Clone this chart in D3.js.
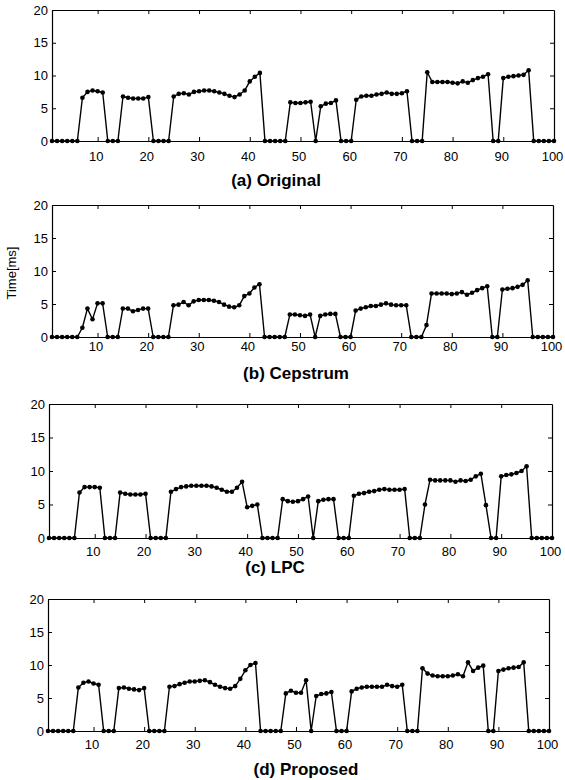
<!DOCTYPE html>
<html>
<head>
<meta charset="utf-8">
<script src="https://cdn.jsdelivr.net/npm/d3@7/dist/d3.min.js"></script>
<style>
  html, body { margin: 0; padding: 0; background: #fff; }
  svg { display: block; }
  .tick text { font-family: "Liberation Sans", Arial, sans-serif; font-size: 13px; fill: #000; }
  .title { font-family: "Liberation Sans", Arial, sans-serif; font-size: 17px; font-weight: bold; fill: #000; }
  .ylab { font-family: "Liberation Sans", Arial, sans-serif; font-size: 13px; fill: #000; }
</style>
</head>
<body>
<svg id="chart" width="565" height="780"></svg>
<script>
// Frame index (1..100) and pitch period estimates in ms
const frames = d3.range(1, 101);
const xTicks = [10, 20, 30, 40, 50, 60, 70, 80, 90, 100];
const yTicks = [0, 5, 10, 15, 20];
const panelTitles = ["(a) Original", "(b) Cepstrum", "(c) LPC", "(d) Proposed"];
const yAxisTitle = "Time[ms]";

const original = [
  0, 0, 0, 0, 0, 0, 6.6, 7.5, 7.7, 7.6, 7.4, 0, 0, 0,
  6.8, 6.6, 6.5, 6.5, 6.5, 6.7, 0, 0, 0, 0,
  6.8, 7.2, 7.3, 7.1, 7.5, 7.6, 7.7, 7.7, 7.6, 7.4, 7.2, 6.9, 6.7, 7.1, 7.7, 9.1, 9.8, 10.4,
  0, 0, 0, 0, 0, 5.9, 5.8, 5.8, 5.9, 6.0, 0, 5.3, 5.7, 5.8, 6.2, 0, 0, 0,
  6.3, 6.8, 6.9, 6.9, 7.1, 7.2, 7.4, 7.2, 7.2, 7.3, 7.6, 0, 0, 0,
  10.5, 9.0, 9.0, 9.0, 9.0, 8.9, 8.8, 9.1, 8.9, 9.3, 9.6, 9.8, 10.2, 0, 0,
  9.6, 9.8, 9.9, 10.0, 10.1, 10.8, 0, 0, 0, 0, 0
];

const cepstrum = [
  0, 0, 0, 0, 0, 0, 1.4, 4.3, 2.7, 5.1, 5.1, 0, 0, 0,
  4.3, 4.3, 3.9, 4.1, 4.3, 4.3, 0, 0, 0, 0,
  4.8, 4.9, 5.3, 4.8, 5.4, 5.6, 5.6, 5.6, 5.5, 5.3, 4.9, 4.6, 4.5, 4.8, 6.2, 6.6, 7.5, 8.0,
  0, 0, 0, 0, 0, 3.4, 3.4, 3.3, 3.2, 3.4, 0, 3.2, 3.4, 3.5, 3.5, 0, 0, 0,
  4.0, 4.3, 4.5, 4.7, 4.7, 4.9, 5.1, 4.9, 4.8, 4.8, 4.8, 0, 0, 0,
  1.8, 6.6, 6.6, 6.6, 6.6, 6.5, 6.6, 6.8, 6.4, 6.7, 7.1, 7.4, 7.7, 0, 0,
  7.2, 7.3, 7.4, 7.6, 7.9, 8.6, 0, 0, 0, 0, 0
];

const lpc = [
  0, 0, 0, 0, 0, 0, 6.8, 7.6, 7.6, 7.6, 7.5, 0, 0, 0,
  6.8, 6.6, 6.5, 6.5, 6.5, 6.6, 0, 0, 0, 0,
  6.9, 7.3, 7.6, 7.7, 7.8, 7.8, 7.8, 7.8, 7.7, 7.5, 7.2, 6.9, 6.9, 7.5, 8.4, 4.6, 4.8, 5.0,
  0, 0, 0, 0, 5.8, 5.5, 5.4, 5.5, 5.8, 6.2, 0, 5.5, 5.7, 5.8, 5.8, 0, 0, 0,
  6.3, 6.6, 6.7, 6.9, 7.0, 7.2, 7.3, 7.2, 7.2, 7.2, 7.3, 0, 0, 0,
  5.0, 8.7, 8.6, 8.6, 8.6, 8.6, 8.4, 8.6, 8.5, 8.7, 9.2, 9.6, 4.9, 0, 0,
  9.2, 9.4, 9.5, 9.7, 10.0, 10.7, 0, 0, 0, 0, 0
];

const proposed = [
  0, 0, 0, 0, 0, 0, 6.6, 7.3, 7.5, 7.2, 7.0, 0, 0, 0,
  6.5, 6.6, 6.4, 6.3, 6.2, 6.5, 0, 0, 0, 0,
  6.7, 6.8, 7.1, 7.3, 7.5, 7.5, 7.6, 7.7, 7.4, 7.0, 6.7, 6.5, 6.4, 6.8, 7.9, 9.2, 10.0, 10.3,
  0, 0, 0, 0, 0, 5.7, 6.1, 5.8, 5.8, 7.7, 0, 5.3, 5.6, 5.7, 5.9, 0, 0, 0,
  6.0, 6.4, 6.6, 6.7, 6.7, 6.7, 6.7, 7.0, 6.8, 6.7, 7.0, 0, 0, 0,
  9.5, 8.7, 8.4, 8.3, 8.3, 8.3, 8.4, 8.6, 8.3, 10.4, 9.1, 9.6, 9.9, 0, 0,
  9.1, 9.3, 9.5, 9.6, 9.7, 10.4, 0, 0, 0, 0, 0
];

const seriesList = [original, cepstrum, lpc, proposed];

// Panel frames: plot box edges, tick-label gap and title placement
const panels = [
  { left: 52, right: 554, top: 10,  bottom: 141, xPad: 10.5, titleX: 276, titleY: 186 },
  { left: 52, right: 553, top: 205, bottom: 337, xPad: 4.5,  titleX: 296, titleY: 379, yTitle: true },
  { left: 49, right: 552, top: 404, bottom: 538, xPad: 8.5,  titleX: 275, titleY: 573 },
  { left: 48, right: 549, top: 599, bottom: 731, xPad: 8.5,  titleX: 306, titleY: 775 }
];

const svg = d3.select("#chart");

panels.forEach((p, i) => {
  const values = seriesList[i];
  const x = d3.scaleLinear().domain([1, 100]).range([p.left, p.right]);
  const y = d3.scaleLinear().domain([0, 20]).range([p.bottom, p.top]);
  const g = svg.append("g");

  // bottom axis with labels, ticks pointing inward
  g.append("g")
    .attr("transform", `translate(0,${p.bottom})`)
    .call(d3.axisBottom(x).tickValues(xTicks).tickSizeInner(-4).tickSizeOuter(0).tickPadding(p.xPad))
    .call(a => a.selectAll("text").attr("dx", "-2"));
  // top axis, ticks only
  g.append("g")
    .attr("transform", `translate(0,${p.top})`)
    .call(d3.axisTop(x).tickValues(xTicks.slice(0, -1)).tickSizeInner(-4).tickSizeOuter(0).tickFormat(""));
  // left axis with labels
  g.append("g")
    .attr("transform", `translate(${p.left},0)`)
    .call(d3.axisLeft(y).tickValues(yTicks).tickSizeInner(-4).tickSizeOuter(0).tickPadding(4));
  // right axis, ticks only
  g.append("g")
    .attr("transform", `translate(${p.right},0)`)
    .call(d3.axisRight(y).tickValues(yTicks.slice(1, -1)).tickSizeInner(-4).tickSizeOuter(0).tickFormat(""));

  g.selectAll(".domain").attr("stroke", "#000").attr("stroke-width", 1.2);
  g.selectAll(".tick line").attr("stroke", "#000").attr("stroke-width", 1);

  // pitch track
  const line = d3.line().x((d, k) => x(frames[k])).y(d => y(d));
  g.append("path")
    .datum(values)
    .attr("fill", "none")
    .attr("stroke", "#000")
    .attr("stroke-width", 1.4)
    .attr("stroke-linejoin", "round")
    .attr("d", line);

  g.selectAll("circle.pt")
    .data(values)
    .join("circle")
    .attr("class", "pt")
    .attr("cx", (d, k) => x(frames[k]))
    .attr("cy", d => y(d))
    .attr("r", 2.3)
    .attr("fill", "#000");

  g.append("text")
    .attr("class", "title")
    .attr("x", p.titleX)
    .attr("y", p.titleY)
    .attr("text-anchor", "middle")
    .text(panelTitles[i]);

  if (p.yTitle) {
    g.append("text")
      .attr("class", "ylab")
      .attr("transform", `translate(16,${(p.top + p.bottom) / 2 + 2}) rotate(-90)`)
      .attr("text-anchor", "middle")
      .text(yAxisTitle);
  }
});
</script>
</body>
</html>
